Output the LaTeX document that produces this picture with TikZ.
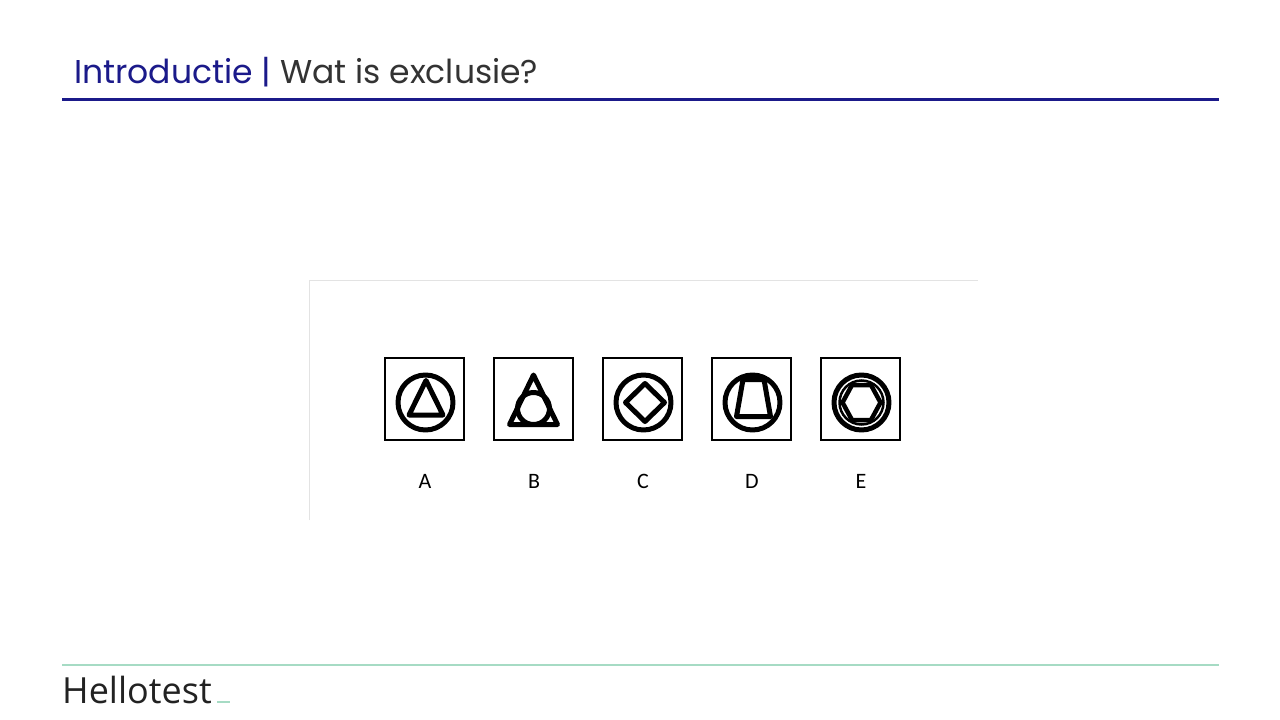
\documentclass[tikz,border=0pt]{standalone}
\usepackage{fontspec}
\newfontfamily\titlefont{Poppins}
\newfontfamily\labelfont{Carlito}
\newfontfamily\brandfont{Open Sans}
\definecolor{navy}{HTML}{1B1A8A}
\definecolor{darkgray}{HTML}{333333}
\definecolor{brandgray}{HTML}{222222}
\definecolor{mint}{HTML}{A6DBC4}
\definecolor{panelgray}{HTML}{E3E3E3}
\begin{document}
\begin{tikzpicture}[x=1pt,y=-1pt,
  box/.style={draw=black, line width=1.6pt, minimum width=79pt, minimum height=82pt, inner sep=0pt},
  sym/.style={draw=black, line width=5pt, line join=round},
  thinsym/.style={draw=black, line width=2.5pt},
  lbl/.style={font=\labelfont\fontsize{22}{22}\selectfont, anchor=base, inner sep=0pt}]
\useasboundingbox (0,0) rectangle (1280,720);
\fill[white] (0,0) rectangle (1280,720);

% header
\node[anchor=base west, inner sep=0pt, font=\titlefont\fontsize{33}{33}\selectfont] (title) at (74,83)
  {\textcolor{navy}{Introductie |} \textcolor{darkgray}{Wat is exclusie?}};
\coordinate (hl) at (62,99);
\coordinate (hr) at (1219,99);
\draw[navy, line width=3pt] (hl) -- (hr);

% panel frame
\coordinate (p1) at (309,520);
\coordinate (p2) at (309,280);
\coordinate (p3) at (978,280);
\draw[panelgray, line width=1pt] (p1) -- (p2) -- (p3);

% boxes
\node[box] (A) at (424.5,399) {};
\node[box] (B) at (533.5,399) {};
\node[box] (C) at (642.5,399) {};
\node[box] (D) at (751.5,399) {};
\node[box] (E) at (860.5,399) {};

% A: circle with triangle
\begin{scope}[shift={(A.center)}]
  \draw[sym] (1,3.5) circle[radius=27.5];
  \draw[sym] (1.5,-18.5) -- (18.5,16) -- (-15.5,16) -- cycle;
\end{scope}
% B: triangle with circle
\begin{scope}[shift={(B.center)}]
  \draw[sym] (0,-24) -- (24,25.5) -- (-24,25.5) -- cycle;
  \draw[sym] (0,9.5) circle[radius=16];
\end{scope}
% C: circle with diamond
\begin{scope}[shift={(C.center)}]
  \draw[sym] (1,3.5) circle[radius=27.5];
  \draw[sym] (2.5,-15.5) -- (22,3.5) -- (2.5,22.5) -- (-17,3.5) -- cycle;
\end{scope}
% D: circle with trapezoid
\begin{scope}[shift={(D.center)}]
  \draw[sym] (1,3.5) circle[radius=27.5];
  \draw[sym] (-8.5,-19.5) -- (12.5,-19.5) -- (19,17.5) -- (-15,17.5) -- cycle;
\end{scope}
% E: double circle with hexagon
\begin{scope}[shift={(E.center)}]
  \draw[sym] (1,3.5) circle[radius=27.5];
  \draw[thinsym] (1,3.5) circle[radius=22];
  \draw[sym, line width=4.5pt] (-18,3.5) -- (-8.5,-14) -- (10.5,-14) -- (20,3.5) -- (10.5,21) -- (-8.5,21) -- cycle;
\end{scope}

% labels
\node[lbl] (la) at (425,488) {A};
\node[lbl] (lb) at (534,488) {B};
\node[lbl] (lc) at (643,488) {C};
\node[lbl] (ld) at (752,488) {D};
\node[lbl] (le) at (861,488) {E};

% footer
\coordinate (fl) at (62,665);
\coordinate (fr) at (1219,665);
\draw[mint, line width=2pt] (fl) -- (fr);
\node[anchor=base west, inner sep=0pt, font=\brandfont\fontsize{36}{36}\selectfont, text=brandgray] (brand) at (62,703) {Hellotest};
\coordinate (u1) at (217,702);
\coordinate (u2) at (230,702);
\draw[mint, line width=2pt] (u1) -- (u2);
\end{tikzpicture}
\end{document}
